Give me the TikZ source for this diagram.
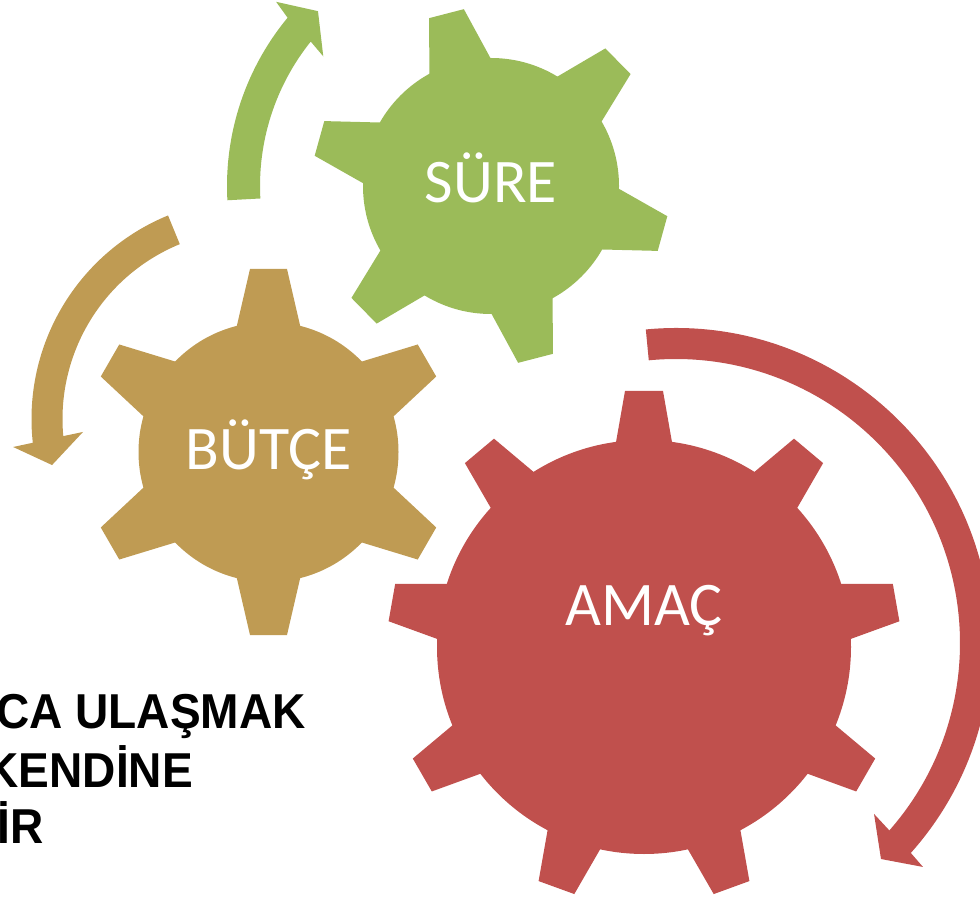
\documentclass[tikz,border=0pt]{standalone}
\usepackage{fontspec}
\setmainfont{Carlito}
\newfontfamily\boldsans{Liberation Sans}[BoldFont={Liberation Sans Bold}]
\definecolor{gearGreen}{HTML}{9BBB59}
\definecolor{gearTan}{HTML}{BF9B53}
\definecolor{gearRed}{HTML}{C0504D}
\tikzset{
  lbl/.style={text=white, font=\fontsize{62}{70}\selectfont, inner sep=0pt, anchor=base},
  blk/.style={text=black, font=\boldsans\bfseries\fontsize{49}{55}\selectfont, inner sep=0pt, anchor=base east, xscale=0.94, transform shape},
}
\begin{document}
\begin{tikzpicture}[x=1pt,y=1pt]
\useasboundingbox (0,0) rectangle (980,898);

% ---- green gear (SURE) ----
\begin{scope}[shift={(491,712)}]
  \fill[gearGreen] (0,0) circle[radius=128pt];
  \foreach \a in {104.5,164.5,224.5,284.5,344.5,44.5}
    \fill[gearGreen, rotate=\a] (110pt,-35pt) -- (178pt,-18pt) -- (178pt,18pt) -- (110pt,35pt) -- cycle;
  % green circular arrow
  \fill[gearGreen] (183.1:264pt) arc[start angle=183.1, end angle=140.4, radius=264pt]
    -- (139.4:283pt) -- (134.7:246pt) -- (142.3:212pt) -- (141.3:231pt)
    arc[start angle=141.3, end angle=183.1, radius=231pt] -- cycle;
\end{scope}

% ---- tan gear (BUTCE) ----
\begin{scope}[shift={(268.5,446)}]
  \fill[gearTan] (0,0) circle[radius=130pt];
  \foreach \a in {90,150,210,270,330,30}
    \fill[gearTan, rotate=\a] (110pt,-35.4pt) -- (183pt,-18.5pt) -- (183pt,18.5pt) -- (110pt,35.4pt) -- cycle;
\end{scope}
\begin{scope}[shift={(251.5,479)}]
  \fill[gearTan] (112.3:220pt) arc[start angle=112.3, end angle=186.2, radius=220pt]
    -- (186.7:240pt) -- (193.0:204.7pt) -- (184.4:169pt) -- (185.2:189pt)
    arc[start angle=185.2, end angle=112.3, radius=189pt] -- cycle;
\end{scope}

% ---- red gear (AMAC) ----
\begin{scope}[shift={(644,251)}]
  \fill[gearRed] (0,0) circle[radius=207pt];
  \foreach \a in {90,130,170,210,250,290,330,370,410}
    \fill[gearRed, rotate=\a] (190pt,-30.6pt) -- (256pt,-19pt) -- (256pt,19pt) -- (190pt,30.6pt) -- cycle;
\end{scope}
\begin{scope}[shift={(676,255)}]
  \fill[gearRed] (95.5:315pt) arc[start angle=95.5, end angle=-41.8, radius=315pt]
    -- (-42.2:333.4pt) -- (-46.5:297.8pt) -- (-40.8:261.6pt) -- (-41.3:284pt)
    arc[start angle=-41.3, end angle=95.5, radius=284pt] -- cycle;
\end{scope}

% ---- labels ----
\node[lbl] (sure) at (491,695) {SÜRE};
\node[lbl] (butce) at (268.7,428) {BÜTÇE};
\node[lbl] (amac) at (643.8,273) {AMAÇ};

\node[blk] (line1) at (306,170) {CA ULAŞMAK};
\node[blk] (line2) at (193,111) {KENDİNE};
\node[blk] (line3) at (44,55) {İR};
\end{tikzpicture}
\end{document}
